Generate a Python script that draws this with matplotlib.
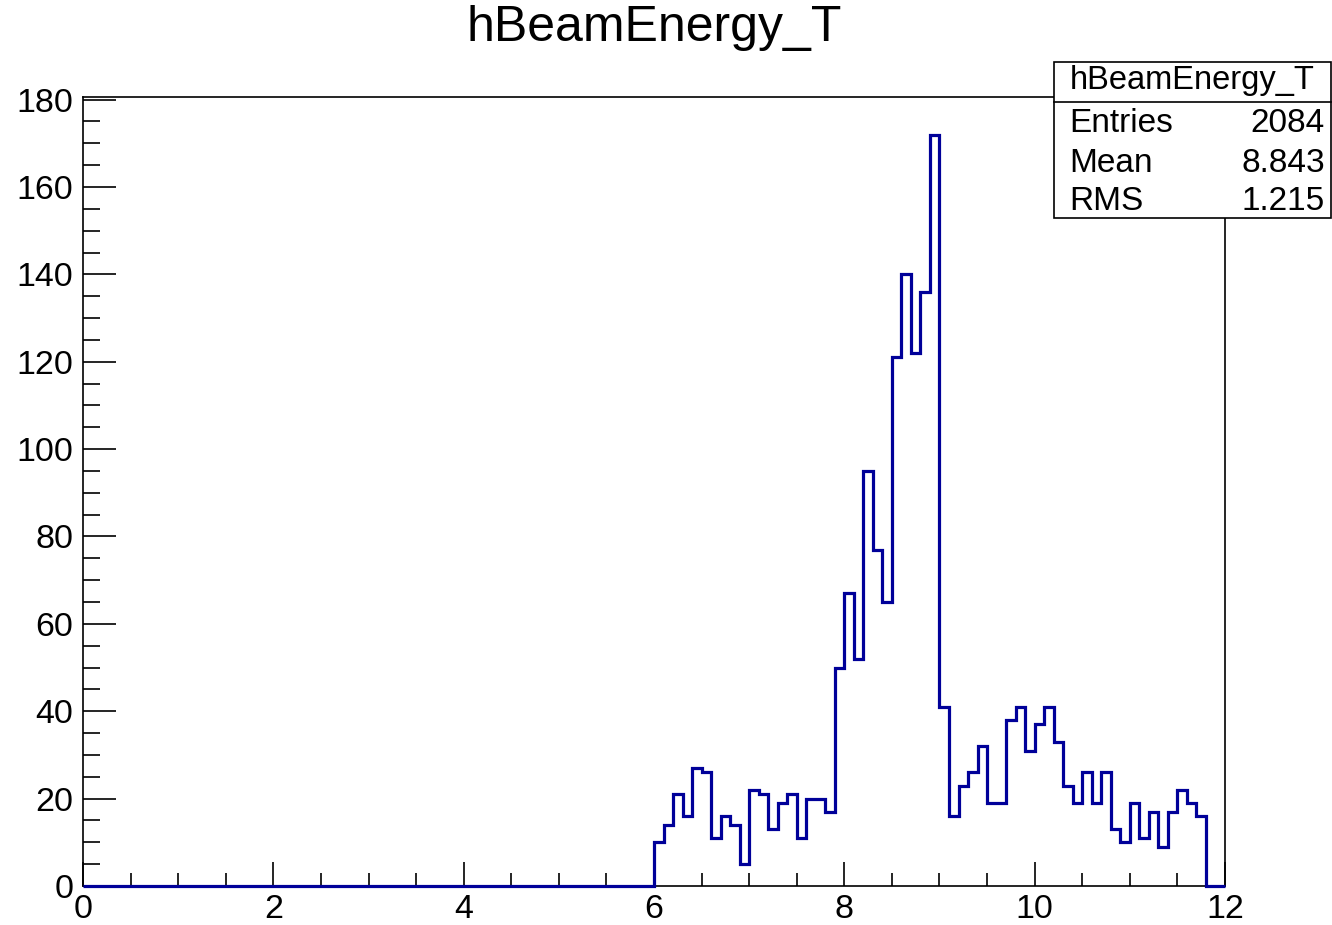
import numpy as np
import matplotlib.pyplot as plt
from matplotlib.ticker import MultipleLocator
from matplotlib.patches import Rectangle
from matplotlib.lines import Line2D

# Histogram hBeamEnergy_T: 120 bins of width 0.1 from 0 to 12
bin_edges = np.linspace(0, 12, 121)
counts_6_to_118 = [
    10, 14, 21, 16, 27, 26, 11, 16, 14, 5,      # 6.0 - 7.0
    22, 21, 13, 19, 21, 11, 20, 20, 17, 50,     # 7.0 - 8.0
    67, 52, 95, 77, 65, 121, 140, 122, 136, 172,  # 8.0 - 9.0
    41, 16, 23, 26, 32, 19, 19, 38, 41, 31,     # 9.0 - 10.0
    37, 41, 33, 23, 19, 26, 19, 26, 13, 10,     # 10.0 - 11.0
    19, 11, 17, 9, 17, 22, 19, 16,              # 11.0 - 11.8
]
counts = [0] * 60 + counts_6_to_118 + [0, 0]

hist_title = "hBeamEnergy_T"
stat_names = ["Entries", "Mean", "RMS"]
stat_values = ["2084", "8.843", "1.215"]

W, H = 1332, 925
plt.rcParams['font.family'] = ['Liberation Sans', 'DejaVu Sans']

fig = plt.figure(figsize=(W / 100, H / 100), dpi=100)
ax = fig.add_axes([83 / W, 1 - 886 / H, (1225 - 83) / W, (886 - 97) / H])

ax.stairs(counts, bin_edges, color='#000099', linewidth=2.3, zorder=3, clip_on=False)

ax.set_xlim(0, 12)
ax.set_ylim(0, 180.6)
ax.xaxis.set_major_locator(MultipleLocator(2))
ax.xaxis.set_minor_locator(MultipleLocator(0.5))
ax.yaxis.set_major_locator(MultipleLocator(20))
ax.yaxis.set_minor_locator(MultipleLocator(5))
ax.tick_params(axis='x', which='major', direction='in', length=17, width=1.2, labelsize=24.5, pad=6)
ax.tick_params(axis='x', which='minor', direction='in', length=9.5, width=1.2)
ax.tick_params(axis='y', which='major', direction='in', length=24, width=1.2, labelsize=24.5, pad=7)
ax.tick_params(axis='y', which='minor', direction='in', length=12, width=1.2)
for s in ax.spines.values():
    s.set_linewidth(1.2)

# title
fig.text(654 / W, 1 - 28 / H, hist_title, ha='center', va='center', fontsize=36)

# stats box
bx0, bx1, by0, by1, bsep = 1054, 1331, 62, 218, 102
fig.patches.append(Rectangle((bx0 / W, 1 - by1 / H), (bx1 - bx0) / W, (by1 - by0) / H,
                             transform=fig.transFigure, facecolor='white',
                             edgecolor='black', linewidth=1.2, zorder=5))
fig.lines.append(Line2D([bx0 / W, bx1 / W], [1 - bsep / H, 1 - bsep / H],
                        transform=fig.transFigure, color='black', linewidth=1.2, zorder=6))
fig.text((bx0 + bx1) / 2 / W, 1 - 81 / H, hist_title, ha='center', va='center',
         fontsize=23.5, zorder=7)
for i, (name, val) in enumerate(zip(stat_names, stat_values)):
    yc = [123, 163, 201][i]
    fig.text(1069 / W, 1 - yc / H, name, ha='left', va='center', fontsize=24, zorder=7)
    fig.text(1325 / W, 1 - yc / H, val, ha='right', va='center', fontsize=24, zorder=7)

fig.savefig("out.png", dpi=100)
